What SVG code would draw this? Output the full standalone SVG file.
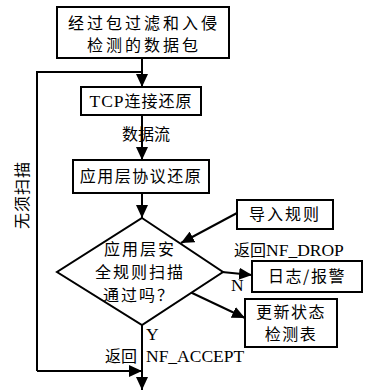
<svg xmlns="http://www.w3.org/2000/svg" width="366" height="390" viewBox="0 0 366 390">
  <defs>
    <marker id="arrow" markerUnits="userSpaceOnUse" markerWidth="13" markerHeight="12" refX="13" refY="6" orient="auto">
      <path d="M0,0 L13,6 L0,12 z" fill="#000"/>
    </marker>
    <style>
      .box { fill: #fff; stroke: #000; stroke-width: 2; }
      .line { fill: none; stroke: #000; stroke-width: 2; }
      .arr { fill: none; stroke: #000; stroke-width: 2; marker-end: url(#arrow); }
      .cn { font-family: "Noto Sans CJK SC", "DejaVu Sans", sans-serif; font-size: 16px; fill: #000; }
      .lat { font-family: "Liberation Serif", "Times New Roman", serif; font-size: 17.5px; fill: #000; }
      .mid { text-anchor: middle; }
    </style>
  </defs>

  <!-- connectors -->
  <g id="connectors">
    <line class="arr" x1="142" y1="58" x2="142" y2="87"/>
    <polyline class="line" points="142,72 37,72 37,371"/>
    <line class="arr" x1="37" y1="371" x2="142" y2="371"/>
    <line class="arr" x1="142" y1="115" x2="142" y2="160"/>
    <line class="arr" x1="142" y1="193" x2="142" y2="218"/>
    <line class="arr" x1="237" y1="213" x2="181" y2="243"/>
    <line class="arr" x1="222" y1="272" x2="252" y2="275"/>
    <line class="arr" x1="190" y1="292" x2="245" y2="318"/>
    <line class="arr" x1="142" y1="325" x2="142" y2="390"/>
  </g>

  <!-- labels on connectors -->
  <text class="cn" x="122" y="140">数据流</text>
  <text class="cn mid" transform="translate(22,195) rotate(-90)" y="6" letter-spacing="1">无须扫描</text>
  <text x="234" y="256"><tspan class="cn">返回</tspan><tspan class="lat">NF_DROP</tspan></text>
  <text class="lat" x="231" y="291">N</text>
  <text class="lat" x="146" y="340">Y</text>
  <text class="cn" x="105" y="362">返回</text>
  <text class="lat" x="146" y="362">NF_ACCEPT</text>

  <g id="input">
    <rect class="box" x="57" y="7" width="172" height="51"/>
    <text class="cn mid" x="144" y="29" letter-spacing="3">经过包过滤和入侵</text>
    <text class="cn mid" x="144" y="51" letter-spacing="3">检测的数据包</text>
  </g>

  <g id="tcp">
    <rect class="box" x="81" y="87" width="120" height="28"/>
    <text class="mid" x="141" y="107" letter-spacing="1"><tspan class="lat">TCP</tspan><tspan class="cn">连接还原</tspan></text>
  </g>

  <g id="app">
    <rect class="box" x="73" y="160" width="136" height="33"/>
    <text class="cn mid" x="141" y="182" letter-spacing="1.5">应用层协议还原</text>
  </g>

  <g id="decision">
    <polygon class="box" points="142,218 223,272 142,325 57,272"/>
    <text class="cn mid" x="140" y="255" letter-spacing="2">应用层安</text>
    <text class="cn mid" x="140" y="278" letter-spacing="2">全规则扫描</text>
    <text class="cn mid" x="139" y="301" letter-spacing="2">通过吗？</text>
  </g>

  <g id="rules">
    <rect class="box" x="237" y="200" width="96" height="29"/>
    <text class="cn mid" x="285" y="220" letter-spacing="2">导入规则</text>
  </g>

  <g id="log">
    <rect class="box" x="252" y="261" width="110" height="31"/>
    <text class="cn mid" x="307" y="282" letter-spacing="1.5">日志/报警</text>
  </g>

  <g id="state">
    <rect class="box" x="245" y="299" width="92" height="48"/>
    <text class="cn mid" x="291" y="318" letter-spacing="1.5">更新状态</text>
    <text class="cn mid" x="291" y="340" letter-spacing="1.5">检测表</text>
  </g>
</svg>
